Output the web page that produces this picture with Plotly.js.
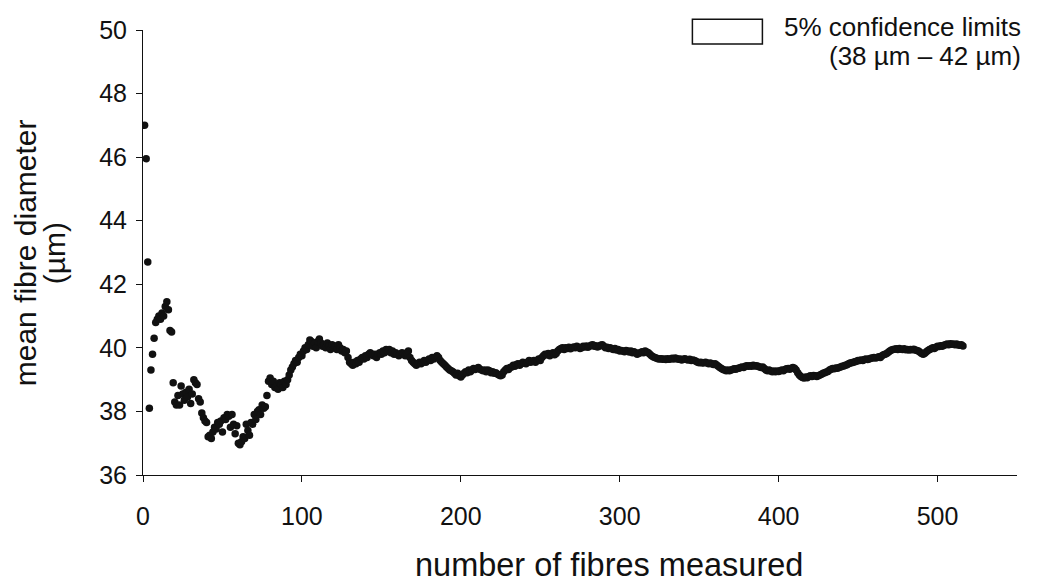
<!DOCTYPE html>
<html>
<head>
<meta charset="utf-8">
<script src="https://cdn.plot.ly/plotly-3.0.1.min.js"></script>
<style>
  html, body { margin: 0; padding: 0; background: #ffffff; }
  #chart { width: 1045px; height: 583px; }
</style>
</head>
<body>
<div id="chart"></div>
<script>
// Running mean of fibre diameter (µm) after each fibre measured
const meanDiameter = [
  47.0, 45.95, 42.7, 38.1, 39.3, 39.8, 40.3, 40.8, 40.9, 41.0,
  40.9, 41.1, 41.0, 41.3, 41.45, 41.2, 40.55, 40.5, 38.9, 38.3,
  38.2, 38.5, 38.2, 38.8, 38.55, 38.35, 38.6, 38.45, 38.7, 38.25,
  38.55, 39.0, 38.9, 38.85, 38.4, 38.3, 37.95, 37.8, 37.7, 37.65,
  37.2, 37.25, 37.15, 37.35, 37.5, 37.45, 37.65, 37.6, 37.7, 37.35,
  37.8, 37.75, 37.9, 37.85, 37.5, 37.9, 37.6, 37.3, 37.55, 37.0,
  36.95, 37.05, 37.2, 37.15, 37.6, 37.4, 37.25, 37.65, 37.6, 37.9,
  37.75, 38.0, 38.05, 37.9, 38.2, 38.1, 38.15, 38.5, 38.95, 39.05,
  38.85, 38.95, 38.75, 38.8, 38.7, 38.9, 38.85, 38.75, 38.95, 38.85,
  39.0, 39.15, 39.3, 39.4, 39.5, 39.6, 39.55, 39.7, 39.8, 39.75,
  39.9, 40.0, 39.95, 40.1, 40.25, 40.2, 40.05, 40.15, 40.0, 40.2,
  40.28, 40.15, 40.05, 40.1, 40.0, 40.15, 40.05, 39.95, 40.1, 40.0,
  40.05, 39.95, 40.1, 40.0, 39.9, 39.95, 39.85, 39.9, 39.7, 39.55,
  39.5, 39.45, 39.55, 39.5, 39.6, 39.55, 39.65, 39.7, 39.65, 39.75,
  39.7, 39.8, 39.85, 39.8, 39.75, 39.8, 39.7, 39.8, 39.85, 39.8,
  39.9, 39.85, 39.95, 39.9, 39.95, 39.85, 39.9, 39.8, 39.85, 39.8,
  39.75, 39.8, 39.85, 39.8, 39.75, 39.85, 39.9, 39.7, 39.6, 39.55,
  39.5, 39.45, 39.5, 39.55, 39.5, 39.55, 39.6, 39.55, 39.6, 39.65,
  39.6, 39.7, 39.65, 39.7, 39.75, 39.7, 39.6, 39.55, 39.5, 39.45,
  39.4, 39.35, 39.3, 39.28, 39.25, 39.2, 39.15, 39.2, 39.12, 39.08,
  39.15, 39.2, 39.25, 39.22, 39.3, 39.25, 39.3, 39.35, 39.32, 39.35,
  39.38, 39.33, 39.3, 39.28, 39.3, 39.25, 39.3, 39.28, 39.22, 39.25,
  39.2, 39.22, 39.18, 39.15, 39.12, 39.15, 39.25, 39.3, 39.35, 39.32,
  39.38, 39.4, 39.45, 39.42, 39.48, 39.5, 39.45, 39.5, 39.55, 39.52,
  39.5, 39.55, 39.6, 39.55, 39.58, 39.6, 39.55, 39.6, 39.65, 39.6,
  39.7, 39.75, 39.8, 39.78, 39.82, 39.75, 39.8, 39.85, 39.78, 39.82,
  39.9, 39.95, 39.98, 40.0, 39.95, 40.0, 39.98, 40.02, 39.97, 40.0,
  40.03, 40.0, 40.05, 40.02, 39.98, 40.0, 40.05, 40.03, 40.06, 40.02,
  40.05, 40.08, 40.1, 40.05, 40.07, 40.03, 40.05, 40.08, 40.1, 40.05,
  40.0, 40.02, 39.98, 40.0, 39.97, 39.95, 39.98, 39.93, 39.95, 39.9,
  39.92, 39.9, 39.88, 39.92, 39.9, 39.87, 39.9, 39.85, 39.88, 39.85,
  39.8, 39.83, 39.85, 39.88, 39.85, 39.9, 39.87, 39.85, 39.8, 39.75,
  39.72, 39.7, 39.68, 39.66, 39.65, 39.66, 39.64, 39.65, 39.63, 39.66,
  39.64, 39.65, 39.67, 39.65, 39.68, 39.66, 39.64, 39.65, 39.62, 39.64,
  39.66, 39.63, 39.62, 39.64, 39.6, 39.62, 39.6, 39.58, 39.55, 39.53,
  39.55, 39.52, 39.53, 39.55, 39.52, 39.5, 39.52, 39.5, 39.48, 39.5,
  39.46, 39.42, 39.38, 39.35, 39.32, 39.3, 39.28, 39.3, 39.28, 39.3,
  39.32, 39.34, 39.33, 39.35, 39.36, 39.38, 39.4, 39.38, 39.42, 39.44,
  39.42, 39.44, 39.42, 39.45, 39.43, 39.44, 39.42, 39.4, 39.38, 39.4,
  39.35, 39.3, 39.28, 39.3, 39.27, 39.25, 39.27, 39.25, 39.27, 39.26,
  39.28, 39.3, 39.28, 39.32, 39.34, 39.35, 39.33, 39.36, 39.38, 39.36,
  39.3, 39.22, 39.15, 39.1, 39.07, 39.05, 39.08, 39.06, 39.1, 39.12,
  39.1, 39.13, 39.12, 39.1, 39.12, 39.15, 39.17, 39.2, 39.22, 39.24,
  39.26, 39.3, 39.33, 39.35, 39.34, 39.37, 39.36, 39.38, 39.4, 39.42,
  39.43, 39.45, 39.47, 39.5, 39.52, 39.53, 39.55, 39.56, 39.58, 39.6,
  39.6, 39.62, 39.6, 39.63, 39.65, 39.63, 39.65, 39.67, 39.68, 39.7,
  39.68, 39.7, 39.72, 39.7, 39.75, 39.78, 39.8, 39.82, 39.86, 39.9,
  39.93, 39.95, 39.96, 39.97, 39.95, 39.98, 39.96, 39.95, 39.97, 39.94,
  39.95, 39.93, 39.95, 39.94, 39.96, 39.93, 39.92, 39.9, 39.86, 39.82,
  39.8, 39.83, 39.88, 39.92, 39.95, 39.97, 40.0, 39.98, 40.02, 40.05,
  40.04, 40.07, 40.05, 40.08, 40.1, 40.12, 40.1, 40.13, 40.11, 40.12,
  40.1, 40.12, 40.09, 40.08, 40.1, 40.06
];

// Number of fibres measured for each running mean (1, 2, 3, ...)
const fibresMeasured = meanDiameter.map((_, i) => i + 1);

// Axis ticks
const xTicks = [0, 100, 200, 300, 400, 500];
const yTicks = [36, 38, 40, 42, 44, 46, 48, 50];

// Axis titles
const xTitle = "number of fibres measured";
const yTitleLines = ["mean fibre diameter", "(\u00b5m)"];

// 5% confidence limits band (µm)
const confLower = 38;
const confUpper = 42;
const legendLines = ["5% confidence limits", "(38 \u00b5m \u2013 42 \u00b5m)"];

const FONT = "Liberation Sans, Arial, Helvetica, sans-serif";
const INK = "#111111";

// White confidence band behind the points
const band = {
  x: [0, 550, 550, 0, 0],
  y: [confLower, confLower, confUpper, confUpper, confLower],
  mode: "lines",
  fill: "toself",
  fillcolor: "#ffffff",
  line: { width: 0, color: "rgba(0,0,0,0)" },
  hoverinfo: "skip",
  showlegend: false
};

const points = {
  x: fibresMeasured,
  y: meanDiameter,
  mode: "markers",
  type: "scatter",
  marker: { size: 7.5, color: INK },
  showlegend: false
};

const layout = {
  width: 1045,
  height: 583,
  margin: { l: 143, r: 27.5, t: 30, b: 108, pad: 0 },
  paper_bgcolor: "#ffffff",
  plot_bgcolor: "#ffffff",
  font: { family: FONT, color: INK, size: 25 },
  showlegend: false,
  xaxis: {
    range: [0, 550],
    tickvals: xTicks,
    ticktext: xTicks.map(String),
    ticks: "outside",
    ticklen: 6,
    tickcolor: INK,
    tickfont: { family: FONT, size: 25, color: INK },
    ticklabelstandoff: 13,
    showline: true,
    linecolor: INK,
    linewidth: 1,
    showgrid: false,
    zeroline: false
  },
  yaxis: {
    range: [36, 50],
    tickvals: yTicks,
    ticktext: yTicks.map(String),
    ticks: "outside",
    ticklen: 6,
    tickcolor: INK,
    tickfont: { family: FONT, size: 25, color: INK },
    ticklabelstandoff: 4,
    showline: true,
    linecolor: INK,
    linewidth: 1,
    showgrid: false,
    zeroline: false
  },
  shapes: [
    {
      type: "rect",
      xref: "paper", yref: "paper",
      x0: 0.6286, x1: 0.7087, y0: 0.9685, y1: 1.024,
      line: { color: INK, width: 1.5 },
      fillcolor: "#ffffff"
    }
  ],
  annotations: [
    // x-axis title
    {
      xref: "paper", yref: "paper",
      x: 0.5329, y: -0.2022,
      xanchor: "center", yanchor: "middle",
      showarrow: false,
      text: xTitle,
      font: { family: FONT, size: 32.5, color: INK }
    },
    // y-axis title, two rotated lines
    {
      xref: "paper", yref: "paper",
      x: -0.1335, y: 0.499,
      xanchor: "center", yanchor: "middle",
      textangle: -90, showarrow: false,
      text: yTitleLines[0],
      font: { family: FONT, size: 30, color: INK }
    },
    {
      xref: "paper", yref: "paper",
      x: -0.1003, y: 0.499,
      xanchor: "center", yanchor: "middle",
      textangle: -90, showarrow: false,
      text: yTitleLines[1],
      font: { family: FONT, size: 30, color: INK }
    },
    // legend text, right aligned
    {
      xref: "paper", yref: "paper",
      x: 1.0063, y: 1.0074,
      xanchor: "right", yanchor: "middle",
      showarrow: false,
      text: legendLines[0],
      font: { family: FONT, size: 26, color: INK }
    },
    {
      xref: "paper", yref: "paper",
      x: 1.0063, y: 0.9420,
      xanchor: "right", yanchor: "middle",
      showarrow: false,
      text: legendLines[1],
      font: { family: FONT, size: 26, color: INK }
    }
  ]
};

Plotly.newPlot("chart", [band, points], layout, { displayModeBar: false, staticPlot: true });
</script>
</body>
</html>
